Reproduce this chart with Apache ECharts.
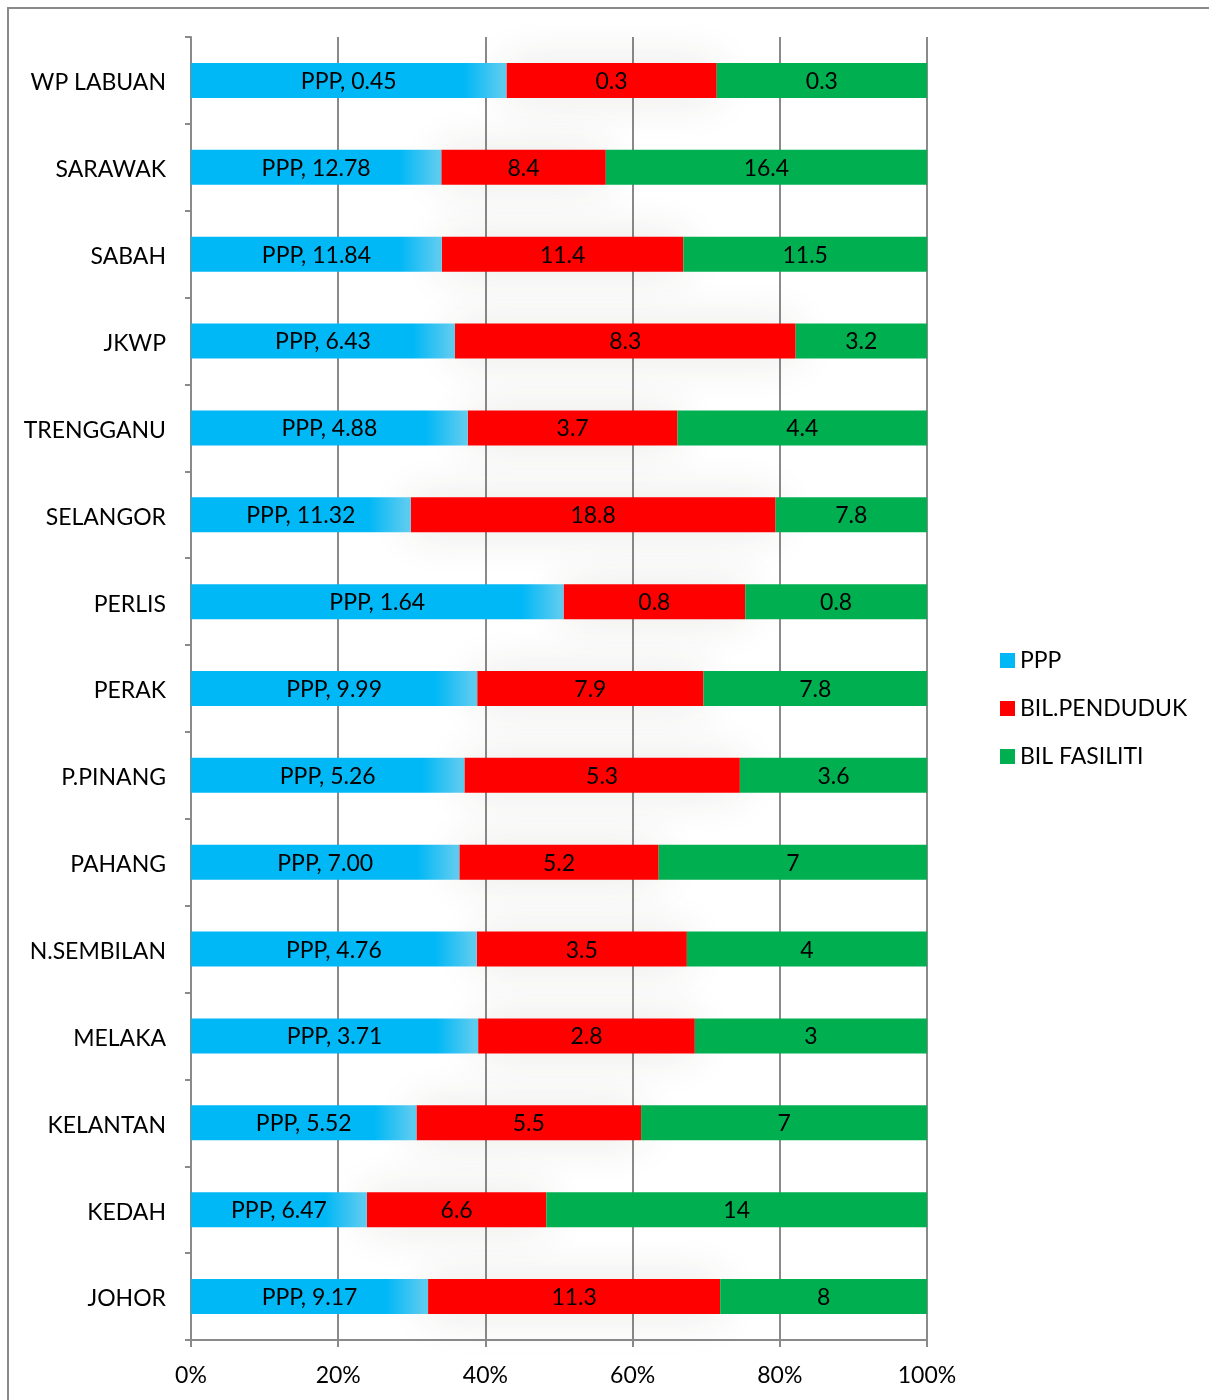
<!DOCTYPE html>
<html>
<head>
<meta charset="utf-8">
<script src="https://cdn.jsdelivr.net/npm/echarts@6/dist/echarts.min.js"></script>
<style>
html,body{margin:0;padding:0;background:#fff;}
#chart{width:1209px;height:1400px;}
</style>
</head>
<body>
<div id="chart"></div>
<script>
const categories = ['JOHOR','KEDAH','KELANTAN','MELAKA','N.SEMBILAN','PAHANG','P.PINANG','PERAK','PERLIS','SELANGOR','TRENGGANU','JKWP','SABAH','SARAWAK','WP LABUAN'];
const pppValues = [9.17, 6.47, 5.52, 3.71, 4.76, 7.00, 5.26, 9.99, 1.64, 11.32, 4.88, 6.43, 11.84, 12.78, 0.45];
const pendudukValues = [11.3, 6.6, 5.5, 2.8, 3.5, 5.2, 5.3, 7.9, 0.8, 18.8, 3.7, 8.3, 11.4, 8.4, 0.3];
const fasilitiValues = [8, 14, 7, 3, 4, 7, 3.6, 7.8, 0.8, 7.8, 4.4, 3.2, 11.5, 16.4, 0.3];
const xTickLabels = ['0%','20%','40%','60%','80%','100%'];
const seriesNames = ['PPP','BIL.PENDUDUK','BIL FASILITI'];

const FONT = 'Lato';
const PLOT_W = 736;
const totals = categories.map((c,i)=>pppValues[i]+pendudukValues[i]+fasilitiValues[i]);
const pct = arr => arr.map((v,i)=>v/totals[i]*100);

const pppData = pct(pppValues).map((p,i)=>{
  const len = p/100*PLOT_W;
  const s = Math.max(0, 1 - 42/len);
  const e = Math.max(s, 1 - 4/len);
  return {
    value: p,
    raw: pppValues[i],
    itemStyle: {
      color: {type:'linear', x:0, y:0, x2:1, y2:0, colorStops:[
        {offset:0, color:'#00B8F6'},
        {offset:s, color:'#00B8F6'},
        {offset:e, color:'#5CCBF0'},
        {offset:1, color:'#5CCBF0'}
      ]}
    }
  };
});
const pendData = pct(pendudukValues).map((p,i)=>({value:p, raw:pendudukValues[i]}));
const fasData = pct(fasilitiValues).map((p,i)=>({value:p, raw:fasilitiValues[i]}));

const labelBase = {show:true, position:'inside', color:'#000', fontFamily:FONT, fontSize:23, offset:[0,1]};

const chart = echarts.init(document.getElementById('chart'));
chart.setOption({
  animation:false,
  backgroundColor:'#fff',
  graphic:[{type:'rect', shape:{x:8, y:8, width:1400, height:1600}, style:{fill:'none', stroke:'#8a8a8a', lineWidth:2}, z:-10}],
  legend:{
    orient:'vertical', left:995, top:644,
    itemWidth:15, itemHeight:15, itemGap:25, icon:'rect',
    textStyle:{fontFamily:FONT, fontSize:23, color:'#000', lineHeight:23},
    data:seriesNames
  },
  grid:{left:191, right:282, top:37, bottom:60, containLabel:false},
  xAxis:{
    type:'value', min:0, max:100, interval:20,
    axisLine:{show:true, lineStyle:{color:'#8a8a8a', width:2}},
    axisTick:{show:true, length:7, lineStyle:{color:'#8a8a8a', width:2}},
    splitLine:{show:true, lineStyle:{color:'#8a8a8a', width:2}},
    axisLabel:{margin:24, color:'#000', fontFamily:FONT, fontSize:23, formatter:(v)=>xTickLabels[Math.round(v/20)]}
  },
  yAxis:{
    type:'category', data:categories,
    axisLine:{show:true, lineStyle:{color:'#8a8a8a', width:2}},
    axisTick:{show:true, length:6, lineStyle:{color:'#8a8a8a', width:2}},
    axisLabel:{margin:25, color:'#000', fontFamily:FONT, fontSize:23, verticalAlign:'top', lineHeight:23, padding:[-9,0,0,0]}
  },
  series:[
    {name:seriesNames[0], type:'bar', stack:'a', barWidth:35, z:3, data:pppData,
     itemStyle:{color:'#00B8F6'},
     label:Object.assign({}, labelBase, {formatter:(p)=>'PPP, '+p.data.raw.toFixed(2)})},
    {name:seriesNames[1], type:'bar', stack:'a', barWidth:35, z:2, data:pendData,
     itemStyle:{color:'#FF0000', shadowBlur:45, shadowColor:'rgba(60,50,30,0.12)'},
     label:Object.assign({}, labelBase, {formatter:(p)=>String(p.data.raw)})},
    {name:seriesNames[2], type:'bar', stack:'a', barWidth:35, z:3, data:fasData,
     itemStyle:{color:'#00B050'},
     label:Object.assign({}, labelBase, {formatter:(p)=>String(p.data.raw)})}
  ]
});
</script>
</body>
</html>
